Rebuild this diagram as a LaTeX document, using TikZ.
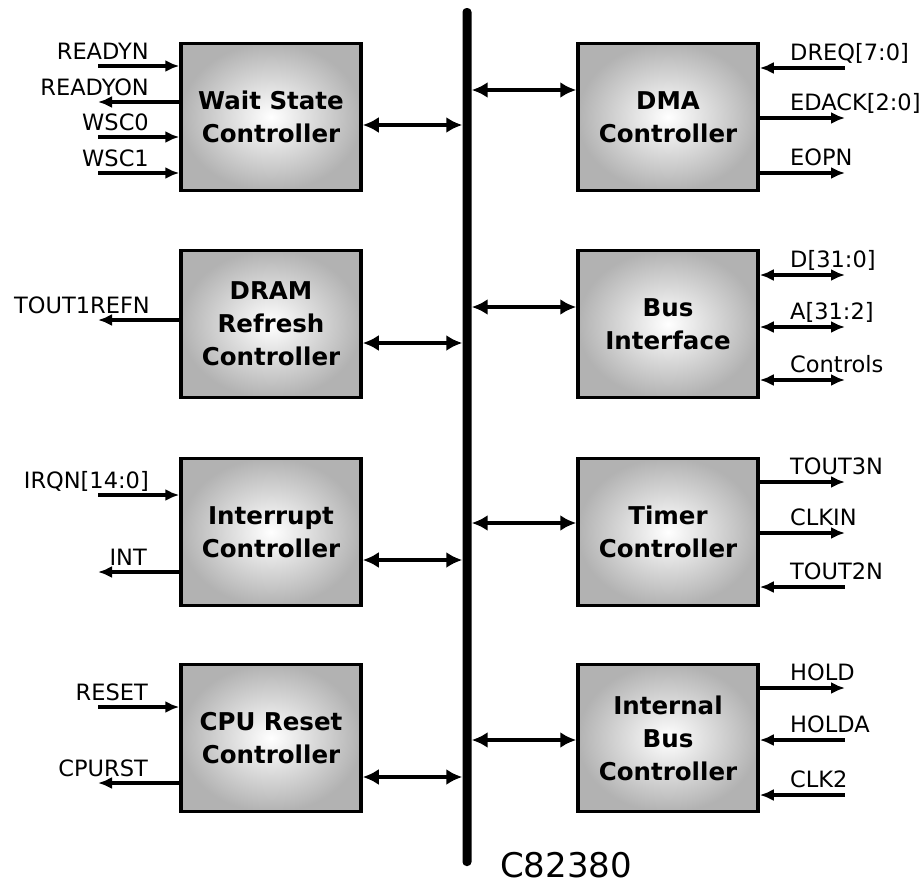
\documentclass[tikz,border=0pt]{standalone}
\usepackage{fontspec}
\setmainfont{DejaVu Sans}
\usetikzlibrary{arrows.meta}

\begin{document}
\begin{tikzpicture}[
    x=1pt, y=-1pt,
    block/.style={rectangle, draw, line width=3.5pt,
                  inner color=white, outer color=black!30,
                  minimum width=180pt, minimum height=147pt,
                  align=center,
                  font=\fontsize{24.5}{33}\selectfont\bfseries},
    busbar/.style={rectangle, fill=black, rounded corners=4pt,
                   minimum width=9pt, minimum height=858pt, inner sep=0pt},
    sig/.style={line width=3.2pt, >={Latex[length=14pt,width=12pt]}},
    link/.style={line width=4pt, {Latex[length=16pt,width=16pt]}-{Latex[length=16pt,width=16pt]}},
    lblL/.style={anchor=base east, inner sep=0pt, font=\fontsize{22.5}{24}\selectfont},
    lblR/.style={anchor=base west, inner sep=0pt, font=\fontsize{22.5}{24}\selectfont}
]
\useasboundingbox (0,0) rectangle (924,886);

% system bus
\node[busbar] (bus) at (467,437) {};
\node[anchor=base west, inner sep=0pt, font=\fontsize{34}{40}\selectfont] (chip) at (500,877) {C82380};

% controller blocks
\node[block] (wsc)  at (271,117) {Wait State\\Controller};
\node[block] (dram) at (271,324) {DRAM\\Refresh\\Controller};
\node[block] (intc) at (271,532) {Interrupt\\Controller};
\node[block] (cpur) at (271,738) {CPU Reset\\Controller};
\node[block] (dma)  at (668,117) {DMA\\Controller};
\node[block] (biu)  at (668,324) {Bus\\Interface};
\node[block] (tmr)  at (668,532) {Timer\\Controller};
\node[block] (ibc)  at (668,738) {Internal\\Bus\\Controller};

% links to the bus
\coordinate (wscb)  at ([yshift=-8pt]wsc.east);
\coordinate (dramb) at ([yshift=-19pt]dram.east);
\coordinate (intcb) at ([yshift=-28pt]intc.east);
\coordinate (cpurb) at ([yshift=-39pt]cpur.east);
\coordinate (dmab)  at ([yshift=27pt]dma.west);
\coordinate (biub)  at ([yshift=17pt]biu.west);
\coordinate (tmrb)  at ([yshift=9pt]tmr.west);
\coordinate (ibcb)  at ([yshift=-2pt]ibc.west);
\draw[link] (wscb) -- (wscb -| bus.west);
\draw[link] (dramb) -- (dramb -| bus.west);
\draw[link] (intcb) -- (intcb -| bus.west);
\draw[link] (cpurb) -- (cpurb -| bus.west);
\draw[link] (dmab) -- (dmab -| bus.east);
\draw[link] (biub) -- (biub -| bus.east);
\draw[link] (tmrb) -- (tmrb -| bus.east);
\draw[link] (ibcb) -- (ibcb -| bus.east);

% left side signals
\coordinate (readyn) at (98,66);
\coordinate (readyon) at (98,102);
\coordinate (wsc0) at (98,137);
\coordinate (wsc1) at (98,173);
\coordinate (tout1) at (98,320);
\coordinate (irqn) at (98,495);
\coordinate (int) at (98,572);
\coordinate (reset) at (98,707);
\coordinate (cpurst) at (98,783);
\draw[sig,->] (readyn) -- (readyn -| wsc.west);
\draw[sig,<-] (readyon) -- (readyon -| wsc.west);
\draw[sig,->] (wsc0) -- (wsc0 -| wsc.west);
\draw[sig,->] (wsc1) -- (wsc1 -| wsc.west);
\draw[sig,<-] (tout1) -- (tout1 -| dram.west);
\draw[sig,->] (irqn) -- (irqn -| intc.west);
\draw[sig,<-] (int) -- (int -| intc.west);
\draw[sig,->] (reset) -- (reset -| cpur.west);
\draw[sig,<-] (cpurst) -- (cpurst -| cpur.west);
\node[lblL] (readynt) at (149,59) {READYN};
\node[lblL] (readyont) at (149,95) {READYON};
\node[lblL] (wsc0t) at (149,130) {WSC0};
\node[lblL] (wsc1t) at (149,166) {WSC1};
\node[lblL] (tout1t) at (150,313) {TOUT1REFN};
\node[lblL] (irqnt) at (149,488) {IRQN[14:0]};
\node[lblL] (intt) at (147,565) {INT};
\node[lblL] (resett) at (148,700) {RESET};
\node[lblL] (cpurstt) at (148,776) {CPURST};

% right side signals
\coordinate (dreq) at (845,68);
\coordinate (edack) at (845,118);
\coordinate (eopn) at (845,173);
\coordinate (dbus) at (845,275);
\coordinate (abus) at (845,327);
\coordinate (ctrls) at (845,380);
\coordinate (tout3) at (845,482);
\coordinate (clkin) at (845,533);
\coordinate (tout2) at (845,587);
\coordinate (hold) at (845,688);
\coordinate (holda) at (845,740);
\coordinate (clk2) at (845,795);
\draw[sig,<-] (dreq -| dma.east) -- (dreq);
\draw[sig,->] (edack -| dma.east) -- (edack);
\draw[sig,->] (eopn -| dma.east) -- (eopn);
\draw[sig,<->] (dbus -| biu.east) -- (dbus);
\draw[sig,<->] (abus -| biu.east) -- (abus);
\draw[sig,<->] (ctrls -| biu.east) -- (ctrls);
\draw[sig,->] (tout3 -| tmr.east) -- (tout3);
\draw[sig,->] (clkin -| tmr.east) -- (clkin);
\draw[sig,<-] (tout2 -| tmr.east) -- (tout2);
\draw[sig,->] (hold -| ibc.east) -- (hold);
\draw[sig,<-] (holda -| ibc.east) -- (holda);
\draw[sig,<-] (clk2 -| ibc.east) -- (clk2);
\node[lblR] (dreqt) at (790,60) {DREQ[7:0]};
\node[lblR] (edackt) at (790,110) {EDACK[2:0]};
\node[lblR] (eopnt) at (790,165) {EOPN};
\node[lblR] (dbust) at (790,267) {D[31:0]};
\node[lblR] (abust) at (790,319) {A[31:2]};
\node[lblR] (ctrlst) at (790,372) {Controls};
\node[lblR] (tout3t) at (790,474) {TOUT3N};
\node[lblR] (clkint) at (790,525) {CLKIN};
\node[lblR] (tout2t) at (790,579) {TOUT2N};
\node[lblR] (holdt) at (790,680) {HOLD};
\node[lblR] (holdat) at (790,732) {HOLDA};
\node[lblR] (clk2t) at (790,787) {CLK2};
\end{tikzpicture}
\end{document}
